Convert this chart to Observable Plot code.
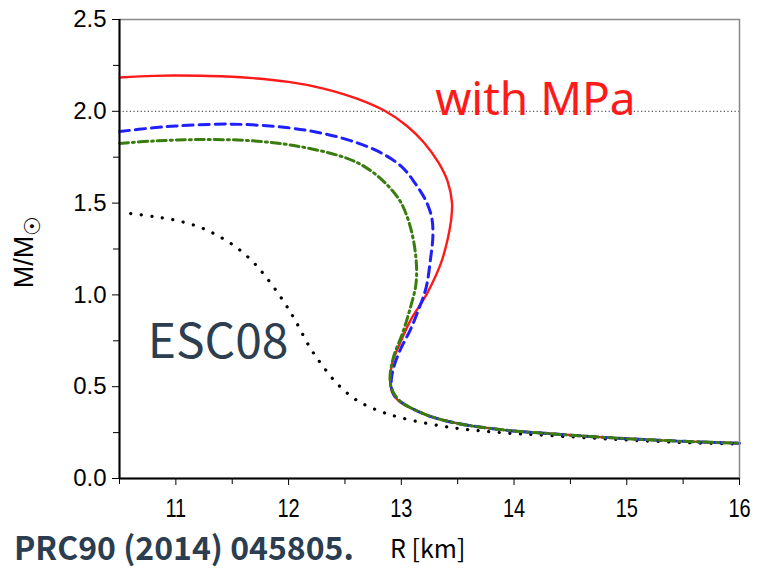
<!DOCTYPE html>
<html>
<head>
<meta charset="utf-8">
<script src="https://cdn.jsdelivr.net/npm/d3@7"></script>
<script src="https://cdn.jsdelivr.net/npm/@observablehq/plot@0.6"></script>
<style>
  html, body { margin: 0; padding: 0; background: #fff; }
  #chart { position: relative; width: 758px; height: 568px; }
</style>
</head>
<body>
<div id="chart"></div>
<script>
// Red solid: with MPa (R [km], M/Msun)
const redR = [10.5, 10.8, 11.0, 11.5, 12.0, 12.3, 12.6, 12.86, 13.05, 13.2, 13.33, 13.41, 13.45, 13.44, 13.41, 13.35, 13.23, 13.08, 12.97, 12.92, 12.90, 12.92, 12.98, 13.1, 13.25, 13.5, 13.9, 14.3, 14.8, 15.4, 16.0];
const redM = [2.184, 2.193, 2.195, 2.188, 2.16, 2.125, 2.07, 2.0, 1.92, 1.83, 1.72, 1.62, 1.50, 1.40, 1.30, 1.17, 1.01, 0.86, 0.71, 0.63, 0.54, 0.47, 0.42, 0.38, 0.34, 0.30, 0.265, 0.245, 0.224, 0.205, 0.192];
// Blue dashed
const blueR = [10.5, 10.8, 11.0, 11.5, 12.0, 12.3, 12.55, 12.8, 13.0, 13.12, 13.22, 13.27, 13.28, 13.26, 13.22, 13.15, 13.08, 12.99, 12.93, 12.91, 12.93, 12.99, 13.1, 13.25, 13.5, 13.9, 14.3, 14.8, 15.4, 16.0];
const blueM = [1.89, 1.91, 1.92, 1.93, 1.91, 1.88, 1.84, 1.78, 1.70, 1.61, 1.51, 1.42, 1.32, 1.20, 1.04, 0.915, 0.81, 0.70, 0.60, 0.52, 0.46, 0.42, 0.38, 0.34, 0.30, 0.265, 0.245, 0.224, 0.205, 0.192];
// Green dash-dot
const greenR = [10.5, 10.8, 11.2, 11.66, 12.08, 12.49, 12.67, 12.84, 12.99, 13.08, 13.13, 13.13, 13.08, 13.01, 12.93, 12.90, 12.92, 12.99, 13.1, 13.25, 13.5, 13.9, 14.3, 14.8, 15.4, 16.0];
const greenM = [1.825, 1.838, 1.846, 1.84, 1.81, 1.75, 1.70, 1.62, 1.51, 1.37, 1.20, 1.06, 0.93, 0.79, 0.66, 0.55, 0.48, 0.42, 0.38, 0.34, 0.30, 0.265, 0.245, 0.224, 0.205, 0.192];
// Black dotted: ESC08
const blackR = [10.6, 10.8, 11.01, 11.22, 11.40, 11.55, 11.69, 11.81, 11.95, 12.06, 12.19, 12.30, 12.43, 12.58, 12.75, 12.99, 13.44, 13.88, 14.32, 14.92, 15.50, 16.0];
const blackM = [1.443, 1.427, 1.405, 1.367, 1.313, 1.253, 1.176, 1.089, 0.97, 0.86, 0.713, 0.615, 0.517, 0.436, 0.381, 0.332, 0.278, 0.25, 0.234, 0.212, 0.196, 0.188];

const xMajorTicks = [11, 12, 13, 14, 15, 16];
const xMinorTicks = [10.5, 11.5, 12.5, 13.5, 14.5, 15.5];
const yMajorTicks = [0, 0.5, 1.0, 1.5, 2.0, 2.5];
const yMinorTicks = [0.25, 0.75, 1.25, 1.75, 2.25];
const refMass = [2.0];
const labelMPa = [{R: 13.3, M: 2.06, text: "with MPa"}];
const labelESC = [{R: 10.75, M: 0.74, text: "ESC08"}];

const toRows = (R, M) => R.map((r, i) => ({R: r, M: M[i]}));
const red = toRows(redR, redM), blue = toRows(blueR, blueM), green = toRows(greenR, greenM), black = toRows(blackR, blackM);

const cjk = "'Noto Sans CJK JP', 'Noto Sans', sans-serif";

const plot = Plot.plot({
  width: 758,
  height: 568,
  marginLeft: 119,
  marginRight: 19,
  marginTop: 19,
  marginBottom: 90,
  style: {fontFamily: "'Liberation Sans', Arial, sans-serif", background: "#fff", color: "#000"},
  x: {domain: [10.5, 16]},
  y: {domain: [0, 2.5]},
  marks: [
    Plot.ruleY(refMass, {stroke: "#555", strokeWidth: 1.2, strokeDasharray: "1.2,2.4"}),
    Plot.line(black, {x: "R", y: "M", curve: "catmull-rom", stroke: "#000", strokeWidth: 3.2, strokeDasharray: "0.1,10.5", strokeLinecap: "round"}),
    Plot.line(red, {x: "R", y: "M", curve: "catmull-rom", stroke: "#ff1a1a", strokeWidth: 2.4}),
    Plot.line(blue, {x: "R", y: "M", curve: "catmull-rom", stroke: "#2020ff", strokeWidth: 3, strokeDasharray: "10,6"}),
    Plot.line(green, {x: "R", y: "M", curve: "catmull-rom", stroke: "#3a7d0f", strokeWidth: 3, strokeDasharray: "9,4,2,4"}),
    Plot.frame({stroke: "#888", strokeWidth: 1.5}),
    Plot.ruleX([10.5], {stroke: "#000", strokeWidth: 2}),
    Plot.ruleY([0], {stroke: "#000", strokeWidth: 2}),
    Plot.axisX({ticks: xMajorTicks, tickSize: 7, tickPadding: 14, fontSize: 25, label: null, tickFormat: d3.format("d")}),
    Plot.axisX({ticks: xMinorTicks, tickSize: 6, tickFormat: () => "", label: null}),
    Plot.axisY({ticks: yMajorTicks, tickSize: 7, tickPadding: 6, fontSize: 24, label: null, tickFormat: d3.format(".1f")}),
    Plot.axisY({ticks: yMinorTicks, tickSize: 6, tickFormat: () => "", label: null}),
    Plot.text(labelMPa, {x: "R", y: "M", text: "text", fill: "#ff1a1a", textAnchor: "start", fontSize: 46, fontFamily: "'Noto Sans', 'Open Sans', sans-serif"}),
    Plot.text(labelESC, {x: "R", y: "M", text: "text", fill: "#2c3e50", textAnchor: "start", fontSize: 48, fontFamily: cjk})
  ]
});

const svg = d3.select(plot);
// Narrow look for x tick labels
svg.selectAll("g[aria-label='x-axis tick label'] text").each(function() {
  const t = d3.select(this);
  const tr = t.attr("transform") || "";
  t.attr("transform", tr + " scale(0.8,1)");
});
// Y-axis label with sun subscript
const yl = svg.append("text")
  .attr("transform", "translate(33,252) rotate(-90)")
  .attr("text-anchor", "middle")
  .attr("font-size", 27)
  .attr("font-family", "'Liberation Sans', Arial, sans-serif")
  .attr("fill", "#000");
yl.append("tspan").text("M/M");
yl.append("tspan").attr("font-size", 22).attr("dy", 7).text("☉");
// X-axis label
svg.append("text")
  .attr("x", 390).attr("y", 558)
  .attr("text-anchor", "start")
  .attr("font-size", 25)
  .attr("font-family", cjk)
  .attr("fill", "#000")
  .text("R [km]");
// Citation
svg.append("text")
  .attr("x", 14).attr("y", 560)
  .attr("text-anchor", "start")
  .attr("font-size", 32)
  .attr("font-weight", "bold")
  .attr("font-family", cjk)
  .attr("fill", "#2b3d50")
  .text("PRC90 (2014) 045805.");

document.getElementById("chart").appendChild(plot);
</script>
</body>
</html>
